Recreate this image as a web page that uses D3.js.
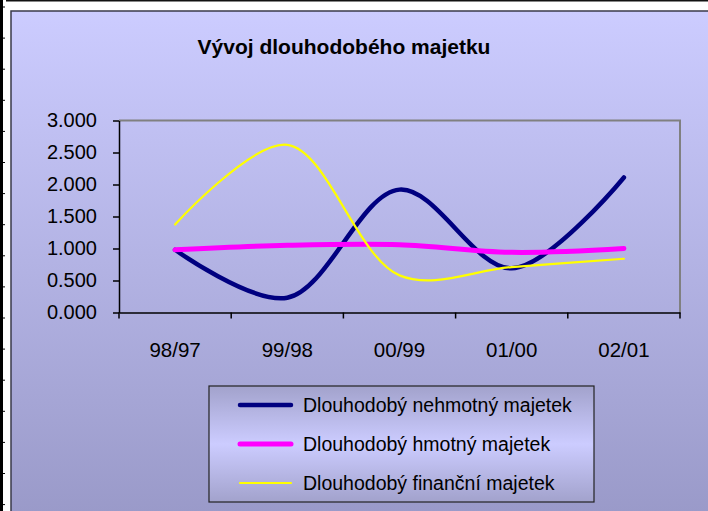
<!DOCTYPE html>
<html>
<head>
<meta charset="utf-8">
<script src="https://cdn.jsdelivr.net/npm/d3@7"></script>
<style>
    body { margin: 0; background: #fff; }
    svg { display: block; font-family: "Liberation Sans", Arial, sans-serif; }
</style>
</head>
<body>
<div id="chart"></div>
<script>
const categories = ["98/97", "99/98", "00/99", "01/00", "02/01"];
const nehmotny = [0.98, 0.23, 1.92, 0.69, 2.11];
const hmotny = [0.98, 1.05, 1.06, 0.94, 1.00];
const financni = [1.375, 2.62, 0.58, 0.71, 0.84];
const yTicks = [0, 0.5, 1, 1.5, 2, 2.5, 3];
const seriesNames = ["Dlouhodobý nehmotný majetek", "Dlouhodobý hmotný majetek", "Dlouhodobý finanční majetek"];

function init() {
    const W = 708, H = 511;
    const plot = { left: 119, right: 680, top: 120.5, bottom: 312.5 };

    const svg = d3.select("#chart")
        .append("svg")
        .attr("width", W)
        .attr("height", H);

    const defs = svg.append("defs");

    const bg = defs.append("linearGradient")
        .attr("id", "bg")
        .attr("x1", "0%").attr("x2", "0%")
        .attr("y1", "0%").attr("y2", "100%");
    bg.append("stop").attr("offset", "0%").attr("stop-color", "#ccccff");
    bg.append("stop").attr("offset", "100%").attr("stop-color", "#9999c8");

    const lg = defs.append("linearGradient")
        .attr("id", "legendBg")
        .attr("x1", "0%").attr("x2", "0%")
        .attr("y1", "0%").attr("y2", "100%");
    lg.append("stop").attr("offset", "0%").attr("stop-color", "#a2a2cc");
    lg.append("stop").attr("offset", "50%").attr("stop-color", "#ccccff");
    lg.append("stop").attr("offset", "100%").attr("stop-color", "#a2a2cc");

    // sheet edge behind the chart
    svg.append("rect").attr("x", 0).attr("y", 0).attr("width", 3).attr("height", H).attr("fill", "#000");
    svg.append("rect").attr("x", 6).attr("y", 0).attr("width", W).attr("height", 1.5).attr("fill", "#111");
    svg.selectAll(".rowtick")
        .data(d3.range(17))
        .enter().append("line")
        .attr("x1", 3).attr("x2", 5)
        .attr("y1", d => 7 + d * 31.1)
        .attr("y2", d => 7 + d * 31.1)
        .attr("stroke", "#000");

    // chart area
    svg.append("rect")
        .attr("x", 11).attr("y", 11)
        .attr("width", W).attr("height", H)
        .attr("fill", "url(#bg)")
        .attr("stroke", "#3a3a4a")
        .attr("stroke-width", 1.5);

    svg.append("text")
        .attr("x", 344)
        .attr("y", 54)
        .attr("text-anchor", "middle")
        .style("font-size", "21px")
        .style("font-weight", "bold")
        .text("Vývoj dlouhodobého majetku");

    const x = d3.scaleBand()
        .domain(categories)
        .range([plot.left, plot.right])
        .padding(0);

    const y = d3.scaleLinear()
        .domain([0, 3])
        .range([plot.bottom, plot.top]);

    // plot border (top, right)
    svg.append("path")
        .attr("d", `M${plot.left},${plot.top}H${plot.right}V${plot.bottom}`)
        .attr("fill", "none")
        .attr("stroke", "#808080")
        .attr("stroke-width", 2);

    const yAxis = svg.append("g")
        .attr("transform", `translate(${plot.left},0)`)
        .call(d3.axisLeft(y).tickValues(yTicks).tickFormat(d3.format(".3f")).tickSize(6).tickSizeOuter(0).tickPadding(16));
    yAxis.selectAll("text").style("font-size", "20px").attr("fill", "#000");
    yAxis.selectAll("line, path").attr("stroke", "#000").attr("stroke-width", 1.5);

    const xAxis = svg.append("g")
        .attr("transform", `translate(0,${plot.bottom})`)
        .call(d3.axisBottom(x).tickSize(0).tickPadding(30).tickSizeOuter(0));
    xAxis.selectAll("text").style("font-size", "20.5px").attr("fill", "#000");
    xAxis.select(".domain").attr("stroke", "#000").attr("stroke-width", 1.5);

    xAxis.selectAll(".bound")
        .data(categories.map(c => x(c)).concat([plot.right]))
        .enter().append("line")
        .attr("x1", d => d).attr("x2", d => d)
        .attr("y1", 0).attr("y2", 6)
        .attr("stroke", "#000")
        .attr("stroke-width", 1.5);

    const series = [
        { name: seriesNames[0], values: nehmotny, color: "#000080", width: 4.5 },
        { name: seriesNames[1], values: hmotny, color: "#ff00ff", width: 5 },
        { name: seriesNames[2], values: financni, color: "#ffff00", width: 2.2 }
    ];

    const line = d3.line()
        .x((d, i) => x(categories[i]) + x.bandwidth() / 2)
        .y(d => y(d))
        .curve(d3.curveCatmullRom.alpha(0.5));

    svg.selectAll(".series")
        .data(series)
        .enter().append("path")
        .attr("class", "series")
        .attr("d", d => line(d.values))
        .attr("fill", "none")
        .attr("stroke", d => d.color)
        .attr("stroke-width", d => d.width)
        .attr("stroke-linecap", "round")
        .attr("stroke-linejoin", "round");

    // legend
    const legend = svg.append("g");
    legend.append("rect")
        .attr("x", 209).attr("y", 386)
        .attr("width", 385).attr("height", 116)
        .attr("fill", "url(#legendBg)")
        .attr("stroke", "#222")
        .attr("stroke-width", 1.2);

    const rows = legend.selectAll(".row")
        .data(series)
        .enter().append("g")
        .attr("transform", (d, i) => `translate(0,${405 + i * 39})`);

    rows.append("line")
        .attr("x1", 240).attr("x2", 291)
        .attr("stroke", d => d.color)
        .attr("stroke-width", d => d.width)
        .attr("stroke-linecap", "round");

    rows.append("text")
        .attr("x", 303)
        .attr("dy", "0.35em")
        .style("font-size", "19.5px")
        .text(d => d.name);
}

window.onload = init;
</script>
</body>
</html>
